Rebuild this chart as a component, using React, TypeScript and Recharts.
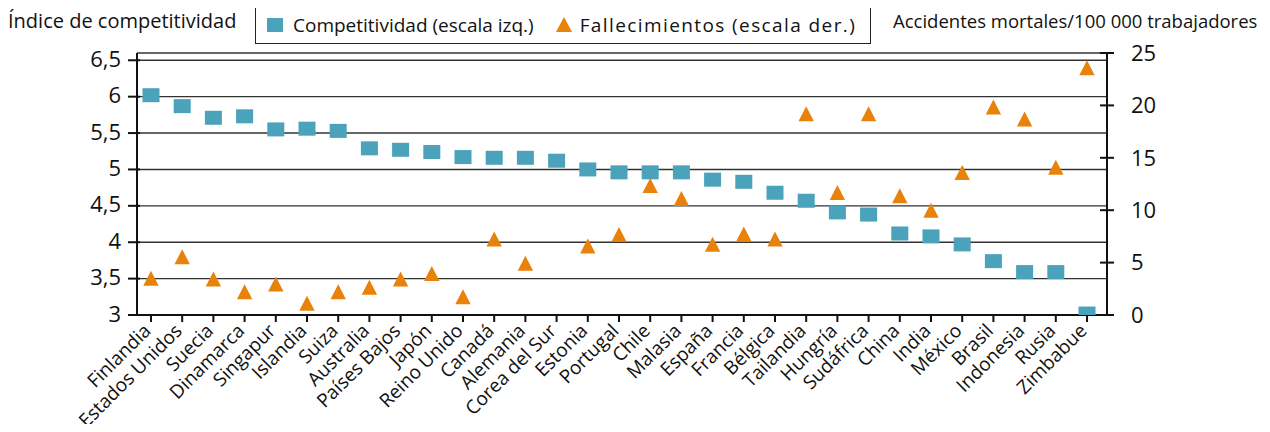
import { ComposedChart, Scatter, XAxis, YAxis, CartesianGrid } from "recharts"

const countries = [
  "Finlandia", "Estados Unidos", "Suecia", "Dinamarca", "Singapur", "Islandia", "Suiza",
  "Australia", "Países Bajos", "Japón", "Reino Unido", "Canadá", "Alemania", "Corea del Sur",
  "Estonia", "Portugal", "Chile", "Malasia", "España", "Francia", "Bélgica", "Tailandia",
  "Hungría", "Sudáfrica", "China", "India", "México", "Brasil", "Indonesia", "Rusia", "Zimbabue",
]

const competitividad = [
  6.02, 5.87, 5.71, 5.73, 5.55, 5.56, 5.53, 5.29, 5.27, 5.24, 5.17, 5.16, 5.16, 5.12, 5.0, 4.96,
  4.96, 4.96, 4.86, 4.83, 4.68, 4.57, 4.41, 4.38, 4.12, 4.08, 3.97, 3.74, 3.59, 3.59, 3.02,
]

const fallecimientos = [
  3.5, 5.56, 3.43, 2.22, 2.95, 1.11, 2.22, 2.64, 3.43, 3.97, 1.75, 7.24, 4.93, null, 6.58, 7.69,
  12.36, 11.12, 6.74, 7.72, 7.24, 19.2, 11.7, 19.2, 11.37, 10.0, 13.6, 19.85, 18.7, 14.1, 23.6,
]

const leftTicks = [3, 3.5, 4, 4.5, 5, 5.5, 6, 6.5]
const rightTicks = [0, 5, 10, 15, 20, 25]

const data = countries.map((pais, i) => ({
  pais,
  competitividad: competitividad[i],
  fallecimientos: fallecimientos[i],
}))

const TEAL = "#4aa3bb"
const ORANGE = "#e8820a"
const FONT = "'Open Sans', sans-serif"
const LEFT_X = 137
const RIGHT_X = 1107

const Square = (props: any) => {
  const { cx, cy } = props
  if (cx == null || cy == null || isNaN(cy)) return <g />
  return <rect x={cx - 8.5} y={cy - 7} width={17} height={14} fill={TEAL} />
}

const Triangle = (props: any) => {
  const { cx, cy, payload } = props
  if (payload?.fallecimientos == null || cy == null || isNaN(cy)) return <g />
  return (
    <polygon
      points={`${cx},${cy - 7.5} ${cx + 7.7},${cy + 7.5} ${cx - 7.7},${cy + 7.5}`}
      fill={ORANGE}
    />
  )
}

const LeftTick = ({ y, payload }: any) => (
  <g>
    <line x1={LEFT_X - 9} x2={LEFT_X + 3} y1={y} y2={y} stroke="#111" strokeWidth={2} />
    <text x={LEFT_X - 16} y={y} dy="0.3em" textAnchor="end" fontSize={22} fontFamily={FONT} fill="#111">
      {String(payload.value).replace(".", ",")}
    </text>
  </g>
)

const RightTick = ({ y, payload }: any) => (
  <g>
    <line x1={RIGHT_X - 7} x2={RIGHT_X + 7} y1={y} y2={y} stroke="#111" strokeWidth={2} />
    <text x={RIGHT_X + 24} y={y} dy="0.35em" textAnchor="start" fontSize={22} fontFamily={FONT} fill="#111">
      {payload.value}
    </text>
  </g>
)

const CountryTick = ({ x, y, payload }: any) => (
  <g transform={`translate(${x},${y})`}>
    <text
      x={0}
      y={0}
      transform="translate(1,8) rotate(-45)"
      textAnchor="end"
      fontSize={19}
      fontFamily={FONT}
      fill="#111"
    >
      {payload.value}
    </text>
  </g>
)

const titleStyle: React.CSSProperties = {
  position: "absolute",
  top: 8,
  fontFamily: FONT,
  fontSize: 18.5,
  color: "#111",
  whiteSpace: "nowrap",
}

const App = () => {
  return (
    <div style={{ position: "relative", width: 1270, height: 432, margin: -8, background: "#fff" }}>
      <div style={{ ...titleStyle, left: 8, fontSize: 20, top: 7 }}>Índice de competitividad</div>
      <div style={{ ...titleStyle, left: 893 }}>Accidentes mortales/100 000 trabajadores</div>
      <div
        style={{
          position: "absolute",
          left: 255,
          top: 5,
          width: 614,
          height: 37,
          border: "1.5px solid #222",
          fontFamily: FONT,
          fontSize: 19,
          color: "#111",
          display: "flex",
          alignItems: "center",
          whiteSpace: "nowrap",
        }}
      >
        <span style={{ display: "inline-block", width: 16, height: 14, background: TEAL, marginLeft: 11, marginRight: 10 }} />
        <span>Competitividad (escala izq.)</span>
        <svg width={16} height={15} style={{ marginLeft: 22, marginRight: 8 }}>
          <polygon points="8,0 16,15 0,15" fill={ORANGE} />
        </svg>
        <span style={{ letterSpacing: 1.4 }}>Fallecimientos (escala der.)</span>
      </div>
      <ComposedChart width={1270} height={432} data={data} margin={{ top: 53, right: 0, bottom: 0, left: 0 }}>
        <CartesianGrid yAxisId="left" vertical={false} stroke="#333" strokeWidth={1.4} />
        <XAxis
          dataKey="pais"
          interval={0}
          height={117}
          padding={{ left: 14, right: 20 }}
          axisLine={{ stroke: "#111", strokeWidth: 2 }}
          tickLine={{ stroke: "#111", strokeWidth: 2 }}
          tickSize={7}
          tickMargin={2}
          tick={<CountryTick />}
        />
        <YAxis
          yAxisId="left"
          width={137}
          domain={[3, 6.6]}
          ticks={leftTicks}
          allowDataOverflow
          axisLine={{ stroke: "#111", strokeWidth: 2 }}
          tickLine={false}
          tick={<LeftTick />}
        />
        <YAxis
          yAxisId="right"
          orientation="right"
          width={163}
          domain={[0, 25]}
          ticks={rightTicks}
          axisLine={{ stroke: "#111", strokeWidth: 2 }}
          tickLine={false}
          tick={<RightTick />}
        />
        <Scatter yAxisId="left" dataKey="competitividad" shape={<Square />} isAnimationActive={false} />
        <Scatter yAxisId="right" dataKey="fallecimientos" shape={<Triangle />} isAnimationActive={false} />
      </ComposedChart>
    </div>
  )
}

export default App
